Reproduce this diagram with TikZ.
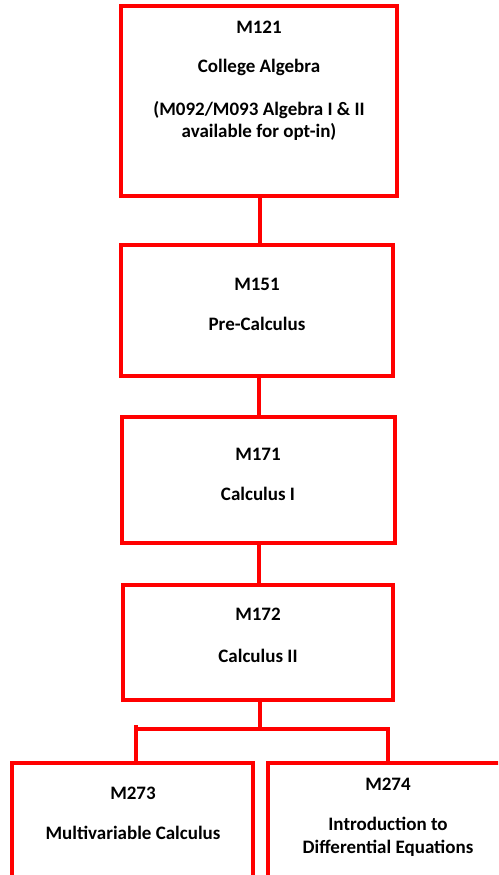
\documentclass[tikz,border=0pt]{standalone}
\usepackage{fontspec}
\setmainfont{Carlito}
\begin{document}
\begin{tikzpicture}[x=1pt,y=-1pt,
  box/.style={draw=boxred,line width=4pt,rectangle,inner sep=0pt,outer sep=0pt,fill=white},
  lbl/.style={font=\fontsize{19}{22}\selectfont\bfseries,align=center,inner sep=0pt,text=black},
  link/.style={draw=boxred,line width=4pt}]
\definecolor{boxred}{RGB}{255,0,0}
\useasboundingbox (0,0) rectangle (498,875);
\clip (0,0) rectangle (498,875);
\node[box,minimum width=276pt,minimum height=190pt] (b1) at (259,101) {};
\node[box,minimum width=272pt,minimum height=131pt] (b2) at (257,310.5) {};
\node[box,minimum width=273pt,minimum height=126pt] (b3) at (258.5,480) {};
\node[box,minimum width=270pt,minimum height=115pt] (b4) at (258,642.5) {};
\node[box,minimum width=241pt,minimum height=140pt] (b5) at (132.5,833) {};
\node[box,minimum width=254pt,minimum height=140pt] (b6) at (395,833) {};
\node[lbl] (t1a) at (259,27) {M121};
\node[lbl] (t1b) at (259,67) {College Algebra};
\node[lbl,font=\fontsize{19}{21.5}\selectfont\bfseries] (t1c) at (259,121) {(M092/M093 Algebra I \& II\\available for opt-in)};
\node[lbl] (t2a) at (257,284) {M151};
\node[lbl] (t2b) at (257,324) {Pre-Calculus};
\node[lbl] (t3a) at (258,454) {M171};
\node[lbl] (t3b) at (258,494) {Calculus I};
\node[lbl] (t4a) at (258,614) {M172};
\node[lbl] (t4b) at (258,656) {Calculus II};
\node[lbl] (t5a) at (133,793) {M273};
\node[lbl] (t5b) at (133,833) {Multivariable Calculus};
\node[lbl] (t6a) at (388,784) {M274};
\node[lbl,font=\fontsize{19}{23}\selectfont\bfseries] (t6b) at (388,837) {Introduction to\\Differential Equations};
\coordinate (bar) at (260,729);
\coordinate (barL) at (135,729);
\coordinate (barR) at (388,729);
\draw[link] (b1.south -| 260,0) -- (b2.north -| 260,0);
\draw[link] (b2.south -| 259,0) -- (b3.north -| 259,0);
\draw[link] (b3.south -| 259,0) -- (b4.north -| 259,0);
\draw[link] (b4.south -| bar) -- (bar);
\draw[link] (barL) -- ([xshift=2pt]barR);
\draw[link] ([yshift=4pt]barL -| 136,0) -- (b5.north -| 136,0);
\draw[link] ([yshift=-2pt]barR) -- (b6.north -| barR);
\end{tikzpicture}
\end{document}
